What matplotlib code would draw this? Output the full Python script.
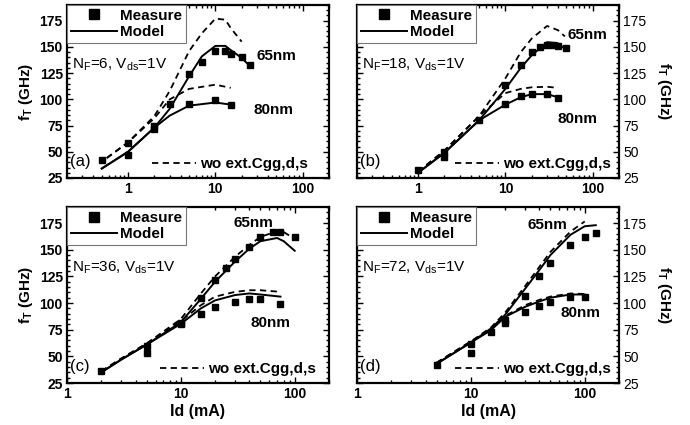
#!/usr/bin/env python3

"""
fT versus drain current for 65nm / 80nm devices, four finger counts.
Measured points, model and model without extrinsic caps.
"""

import matplotlib
matplotlib.use('Agg')
import matplotlib.pyplot as plt
from matplotlib.lines import Line2D
from matplotlib.ticker import LogLocator, MultipleLocator, NullFormatter

plt.rcParams['font.family'] = ['Liberation Sans', 'DejaVu Sans']
plt.rcParams['mathtext.default'] = 'regular'
plt.rcParams['lines.scale_dashes'] = False

# (a) NF=6
a_meas65_x = [0.5, 1, 2, 3, 5, 7, 10, 13, 15, 20, 25]
a_meas65_y = [42, 58, 75, 96, 124, 136, 146, 146, 143, 140, 133]
a_meas80_x = [1, 2, 5, 10, 15]
a_meas80_y = [47, 72, 96, 99, 95]
a_model65_x = [0.5, 1, 2, 3, 5, 7, 10, 13, 15, 20, 25]
a_model65_y = [34, 50, 73, 91, 122, 141, 151, 151, 147, 139.5, 131.5]
a_model80_x = [0.5, 1, 2, 3, 5, 10, 15]
a_model80_y = [34, 50, 73, 84.5, 94, 97, 95]
a_wo65_x = [0.57, 1, 2, 3, 5, 7, 10, 13, 15, 20]
a_wo65_y = [44, 59, 84, 108, 146, 163, 177, 176, 168, 155]
a_wo80_x = [0.57, 1, 2, 3, 5, 10, 15]
a_wo80_y = [44, 59, 82, 100, 110, 114, 111]

# (b) NF=18
b_meas65_x = [1, 2, 5, 10, 15, 20, 25, 30, 35, 40, 50]
b_meas65_y = [33, 45, 80, 114, 133, 145, 150, 152, 152, 151, 149]
b_meas80_x = [2, 10, 15, 20, 30, 40]
b_meas80_y = [50, 96, 103, 105.5, 105.5, 101]
b_model65_x = [1, 2, 5, 10, 15, 20, 30, 40, 50]
b_model65_y = [30, 49, 80, 110, 130, 142, 154.5, 153.5, 147]
b_model80_x = [1, 2, 5, 10, 15, 20, 30, 40]
b_model80_y = [30, 49, 80, 95, 102, 105, 105, 102]
b_wo65_x = [1, 2, 5, 10, 15, 20, 30, 40, 48]
b_wo65_y = [31, 51, 84, 120, 145, 158, 170, 166, 160]
b_wo80_x = [1, 2, 5, 10, 15, 20, 30, 40]
b_wo80_y = [31, 51, 84, 106, 110, 111.5, 112, 111]

# (c) NF=36
c_meas65_x = [2, 5, 10, 15, 20, 25, 30, 40, 50, 65, 75, 100]
c_meas65_y = [36.5, 60, 81, 105, 121.5, 132.5, 141, 153, 161.5, 166.5, 166.5, 162]
c_meas80_x = [5, 10, 15, 20, 30, 40, 50, 75]
c_meas80_y = [53, 80, 90, 96, 101, 104, 103.5, 99.5]
c_model65_x = [2, 3, 5, 10, 15, 20, 30, 40, 50, 70, 80, 100]
c_model65_y = [35, 47, 61, 82, 104, 120, 139, 151, 158, 161, 158, 149]
c_model80_x = [2, 3, 5, 10, 15, 20, 30, 40, 50, 75]
c_model80_y = [35, 47, 61, 80.5, 95, 102.5, 107.5, 109, 108, 106]
c_wo65_x = [2, 3, 5, 10, 15, 20, 30, 40, 50, 75, 100]
c_wo65_y = [36, 48, 62, 85, 109, 125, 143.5, 154.5, 162, 168.5, 160]
c_wo80_x = [2, 3, 5, 10, 15, 20, 30, 40, 50, 75]
c_wo80_y = [36, 48, 62, 83, 98, 106, 110.5, 112, 112, 110.5]

# (d) NF=72
d_meas65_x = [5, 10, 15, 20, 30, 40, 50, 75, 100, 125]
d_meas65_y = [42, 62, 73, 84, 107, 125, 138, 154.5, 162, 165.5]
d_meas80_x = [10, 20, 30, 40, 50, 75, 100]
d_meas80_y = [53, 81, 92, 97, 101, 106, 106]
d_model65_x = [5, 10, 15, 20, 30, 40, 50, 75, 100, 125]
d_model65_y = [43, 63, 76, 89, 113.5, 131, 145, 164, 172, 173]
d_model80_x = [5, 10, 15, 20, 30, 40, 50, 75, 100]
d_model80_y = [43, 63, 74.5, 87, 96.5, 101.5, 105, 108, 108]
d_wo65_x = [5, 10, 15, 20, 30, 40, 50, 75, 100]
d_wo65_y = [44, 64, 77, 91, 116, 134, 148, 167, 176.5]
d_wo80_x = [5, 10, 15, 20, 30, 40, 50, 75, 100]
d_wo80_y = [44, 64, 75, 88, 98, 103, 106, 109, 108.5]

panel_tags = ['(a)', '(b)', '(c)', '(d)']
panel_nf = ['6', '18', '36', '72']
x_ticks = [1, 10, 100]
x_tick_labels = ['1', '10', '100']
y_ticks = [25, 50, 75, 100, 125, 150, 175]

DASH = (4.5, 3.2)


def drawPanel(ax, meas, model, wo, tag, nf, xlim, right, bottom,
              pos65, pos80, dashX):
    """
    Draw one fT panel.
    """
    # Model lines
    for x, y in model:
        ax.plot(x, y, color='black', lw=1.4)

    # Model without extrinsic caps
    for x, y in wo:
        ax.plot(x, y, color='black', lw=1.3, dashes=DASH)

    # Measured points
    for x, y in meas:
        ax.plot(x, y, 's', color='black', ms=4.8, mec='black')

    ax.set_xscale('log')
    ax.set_xlim(*xlim)
    ax.set_ylim(25, 190)

    # Ticks
    ax.set_xticks(x_ticks)
    ax.set_xticklabels(x_tick_labels)
    ax.xaxis.set_minor_locator(LogLocator(base=10, subs=range(2, 10)))
    ax.xaxis.set_minor_formatter(NullFormatter())
    ax.set_yticks(y_ticks)
    ax.yaxis.set_minor_locator(MultipleLocator(5))
    ax.tick_params(which='both', direction='in', top=True, right=True,
                   labelsize=10, width=1.0)
    ax.tick_params(which='major', length=4, pad=3)
    ax.tick_params(which='minor', length=2)
    for lab in ax.get_xticklabels() + ax.get_yticklabels():
        lab.set_fontweight('bold')
    for sp in ax.spines.values():
        sp.set_linewidth(1.6)

    if right:
        ax.tick_params(which='both', labelleft=False, labelright=True)
        ax.yaxis.set_label_position('right')
        ax.set_ylabel('f$_T$ (GHz)', fontsize=11, fontweight='bold',
                      rotation=-90, va='bottom', labelpad=6)
    else:
        ax.set_ylabel('f$_T$ (GHz)', fontsize=11, fontweight='bold',
                      labelpad=3)

    if bottom:
        ax.set_xlabel('Id (mA)', fontsize=11.5, fontweight='bold', labelpad=2)

    # Legend for measure / model
    handles = [Line2D([], [], marker='s', ls='none', color='black', ms=6.5),
               Line2D([], [], color='black', lw=1.4)]
    leg = ax.legend(handles, ['Measure', 'Model'], loc='upper left',
                    bbox_to_anchor=(0, 1), borderaxespad=0,
                    prop={'size': 11, 'weight': 'bold'},
                    handlelength=3.0, handletextpad=0.2, labelspacing=0.15,
                    borderpad=0.25, fancybox=False, framealpha=1,
                    edgecolor='#777777')
    leg.get_frame().set_linewidth(0.8)
    ax.add_artist(leg)

    # Legend for the dashed curve
    dashHandle = Line2D([], [], color='black', lw=1.3, dashes=DASH)
    ax.legend([dashHandle], ['wo ext.Cgg,d,s'], loc='lower left',
              bbox_to_anchor=(dashX, 0.04), borderaxespad=0, borderpad=0,
              frameon=False, prop={'size': 11, 'weight': 'bold'},
              handlelength=2.9, handletextpad=0.25)

    # Text labels
    ax.text(pos65[0], pos65[1], '65nm', transform=ax.transAxes,
            fontsize=11, fontweight='bold', va='center', ha='left')
    ax.text(pos80[0], pos80[1], '80nm', transform=ax.transAxes,
            fontsize=11, fontweight='bold', va='center', ha='left')
    ax.text(0.02, 0.655, 'N$_F$=' + nf + ', V$_{ds}$=1V',
            transform=ax.transAxes, fontsize=11, va='center', ha='left')
    ax.text(0.012, 0.095, tag, transform=ax.transAxes, fontsize=12,
            va='center', ha='left')


def main():
    fig = plt.figure(figsize=(6.9, 4.25), dpi=100)

    axA = fig.add_axes([0.0971, 0.5812, 0.3797, 0.407])
    axB = fig.add_axes([0.5174, 0.5812, 0.3797, 0.407])
    axC = fig.add_axes([0.0971, 0.0988, 0.3797, 0.414])
    axD = fig.add_axes([0.5174, 0.0988, 0.3797, 0.414])

    drawPanel(axA,
              [(a_meas65_x, a_meas65_y), (a_meas80_x, a_meas80_y)],
              [(a_model65_x, a_model65_y), (a_model80_x, a_model80_y)],
              [(a_wo65_x, a_wo65_y), (a_wo80_x, a_wo80_y)],
              panel_tags[0], panel_nf[0], (0.2, 200), False, False,
              (0.725, 0.705), (0.71, 0.393), 0.324)
    drawPanel(axB,
              [(b_meas65_x, b_meas65_y), (b_meas80_x, b_meas80_y)],
              [(b_model65_x, b_model65_y), (b_model80_x, b_model80_y)],
              [(b_wo65_x, b_wo65_y), (b_wo80_x, b_wo80_y)],
              panel_tags[1], panel_nf[1], (0.2, 200), True, False,
              (0.805, 0.827), (0.767, 0.34), 0.374)
    drawPanel(axC,
              [(c_meas65_x, c_meas65_y), (c_meas80_x, c_meas80_y)],
              [(c_model65_x, c_model65_y), (c_model80_x, c_model80_y)],
              [(c_wo65_x, c_wo65_y), (c_wo80_x, c_wo80_y)],
              panel_tags[2], panel_nf[2], (1, 200), False, True,
              (0.634, 0.91), (0.70, 0.34), 0.355)
    drawPanel(axD,
              [(d_meas65_x, d_meas65_y), (d_meas80_x, d_meas80_y)],
              [(d_model65_x, d_model65_y), (d_model80_x, d_model80_y)],
              [(d_wo65_x, d_wo65_y), (d_wo80_x, d_wo80_y)],
              panel_tags[3], panel_nf[3], (1, 200), True, True,
              (0.65, 0.9), (0.775, 0.40), 0.374)

    fig.savefig('out.png', dpi=100)


if __name__ == "__main__":
    main()
